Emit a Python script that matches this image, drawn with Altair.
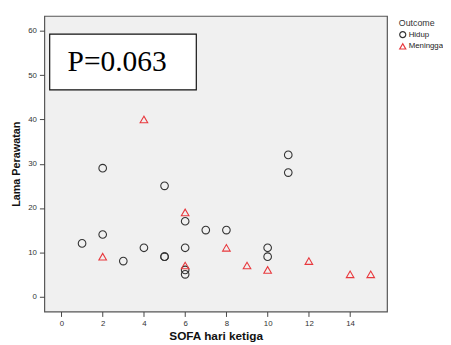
import altair as alt
import pandas as pd

# Data
hidup_x = [1, 2, 2, 3, 4, 5, 5, 5, 6, 6, 6, 6, 7, 8, 10, 10, 11, 11]
hidup_y = [12, 14, 29, 8, 11, 25, 9, 9, 17, 11, 6, 5, 15, 15, 11, 9, 32, 28]
meninggal_x = [2, 4, 6, 6, 8, 9, 10, 12, 14, 15]
meninggal_y = [9, 40, 19, 7, 11, 7, 6, 8, 5, 5]
groups = ["Hidup", "Meningga"]
x_ticks = [0, 2, 4, 6, 8, 10, 12, 14]
y_ticks = [0, 10, 20, 30, 40, 50, 60]
p_label = ["P=0.063"]

df = pd.DataFrame({
    "sofa": hidup_x + meninggal_x,
    "lama": hidup_y + meninggal_y,
    "Outcome": [groups[0]] * len(hidup_x) + [groups[1]] * len(meninggal_x),
})

xs = alt.Scale(domain=[-0.83, 15.79], nice=False, zero=False)
ys = alt.Scale(domain=[-3.4, 63.4], nice=False, zero=False)

x_axis = alt.Axis(values=x_ticks, grid=False, domain=False, tickSize=5,
                  tickColor="#444", labelColor="#333", labelFontSize=8,
                  labelPadding=3, titleFontSize=12, titleFontWeight="bold",
                  titleColor="#111", titlePadding=4, labelFont="Liberation Sans",
                  titleFont="Liberation Sans")
y_axis = alt.Axis(values=y_ticks, grid=False, domain=False, tickSize=5,
                  tickColor="#444", labelColor="#333", labelFontSize=8,
                  labelPadding=3, titleFontSize=11, titleFontWeight="bold",
                  titleColor="#111", titlePadding=6, labelFont="Liberation Sans",
                  titleFont="Liberation Sans")
XT = "SOFA hari ketiga"
YT = "Lama Perawatan"

box_df = pd.DataFrame({"x": [-0.57], "x2": [6.54], "y": [46.7], "y2": [59.3]})
box = alt.Chart(box_df).mark_rect(fill="white", stroke="#111", strokeWidth=1.2).encode(
    x=alt.X("x:Q", scale=xs, axis=x_axis, title=XT), x2="x2:Q",
    y=alt.Y("y:Q", scale=ys, axis=y_axis, title=YT), y2="y2:Q")

text_df = pd.DataFrame({"x": [2.7], "y": [53], "t": p_label})
txt = alt.Chart(text_df).mark_text(font="Liberation Serif", fontSize=30, color="#000",
                                   align="center", baseline="middle").encode(
    x=alt.X("x:Q", scale=xs, axis=x_axis, title=XT),
    y=alt.Y("y:Q", scale=ys, axis=y_axis, title=YT), text="t:N")

points = alt.Chart(df).mark_point(filled=False, strokeWidth=1.1, size=60, opacity=1).encode(
    x=alt.X("sofa:Q", scale=xs, axis=x_axis, title=XT),
    y=alt.Y("lama:Q", scale=ys, axis=y_axis, title=YT),
    color=alt.Color("Outcome:N", scale=alt.Scale(domain=groups, range=["#333333", "#e8383d"]),
                    legend=alt.Legend(orient="none", legendX=361, legendY=3,
                                      titleFontSize=9, titleFontWeight="normal",
                                      titleColor="#333", labelFontSize=8, labelColor="#222",
                                      symbolSize=38, symbolStrokeWidth=1.2, rowPadding=0,
                                      titlePadding=3, labelOffset=2, labelFont="Liberation Sans",
                                      titleFont="Liberation Sans", symbolOffset=0)),
    shape=alt.Shape("Outcome:N", scale=alt.Scale(domain=groups, range=["circle", "triangle-up"])),
)

chart = alt.layer(box, txt, points).properties(
    width=349, height=301,
    autosize=alt.AutoSizeParams(type="none"),
    padding={"left": 37, "top": 5, "right": 57, "bottom": 31},
    background="white",
).configure_view(fill="#f0f0f0", stroke="#555", strokeWidth=1.2)

chart.save("out.html", embed_options={"renderer": "svg", "actions": False})
